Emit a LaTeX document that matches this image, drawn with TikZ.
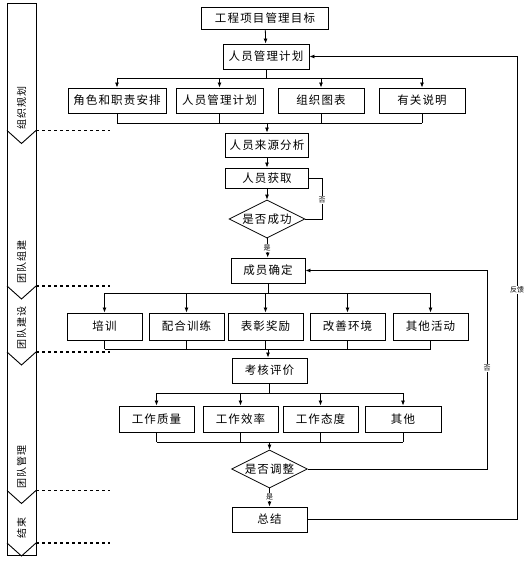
\documentclass[tikz,border=0pt]{standalone}
\usepackage{fontspec}
\newfontfamily\cjk[LetterSpace=10]{Noto Sans CJK SC}
\newfontfamily\cjktag{Noto Sans CJK SC}
\usetikzlibrary{shapes.geometric,arrows.meta}
\begin{document}
\begin{tikzpicture}[x=1pt,y=-1pt,
  box/.style={draw, line width=0.9pt, rectangle, minimum height=25pt, inner sep=1pt, font=\cjk\fontsize{11.5}{12}\selectfont},
  cond/.style={draw, line width=0.8pt, diamond, aspect=2, inner sep=0pt, minimum width=76pt, minimum height=38pt, font=\cjk\fontsize{11.5}{12}\selectfont},
  lane/.style={rotate=90, font=\cjk\fontsize{10}{11}\selectfont},
  tag/.style={fill=white, inner sep=0.5pt, font=\cjktag\fontsize{7}{7}\selectfont},
  arr/.style={-{Latex[length=5pt,width=4pt]}},
  line width=0.8pt]
\useasboundingbox (0,0) rectangle (530,564);
\draw[line width=0.9pt] (7,3) -- (36,3) -- (36,555) -- (7,555) -- cycle;
\foreach \b in {130.5,286,352,490.5,543}{
\draw[line width=0.9pt] (7,\b) -- (21.5,\b+13) -- (36,\b);
\draw[dashed, line width=1.2pt] (36,\b) -- (110,\b);
}
\node[lane] (lane0) at (21.5,108){组织规划};
\node[lane] (lane1) at (21.5,262){团队组建};
\node[lane] (lane2) at (21.5,328){团队建设};
\node[lane] (lane3) at (21.5,467){团队管理};
\node[lane] (lane4) at (21.5,528){结束};
\node[box, minimum width=127pt, minimum height=22pt] (goal) at (265,18){工程项目管理目标};
\node[box, minimum width=86pt] (plan) at (266,56.5){人员管理计划};
\draw[arr](goal) -- (plan);
\node[box, minimum width=98pt] (role) at (117,100.5){角色和职责安排};
\node[box, minimum width=87pt] (plan2) at (219.5,100.5){人员管理计划};
\node[box, minimum width=86pt] (chart) at (321,100.5){组织图表};
\node[box, minimum width=86pt] (note) at (422,100.5){有关说明};
\coordinate (s0) at (266,78);
\coordinate (m0) at (267,123);
\draw[](plan) -- (s0);
\draw[](role.north |- s0) -- (note.north |- s0);
\foreach \n in {role,plan2,chart,note}{
\draw[arr](\n.north |- s0) -- (\n.north);
\draw[](\n.south) -- (\n.south |- m0);
}
\draw[](role.south |- m0) -- (note.south |- m0);
\node[box, minimum width=83pt, minimum height=24pt] (src) at (267,145){人员来源分析};
\draw[arr](m0) -- (src);
\node[box, minimum width=83pt, minimum height=20pt] (get) at (267,178){人员获取};
\draw[arr](src) -- (get);
\node[cond] (ok) at (267,219){是否成功};
\draw[arr](get) -- (ok);
\coordinate (c0) at (322,178);
\draw[](get.east) -- (c0) -- (c0 |- ok.east) -- (ok.east);
\node[tag] (no0) at (322,200){否};
\node[box, minimum width=74pt] (fix) at (268,270.5){成员确定};
\draw[arr](ok) -- (fix);
\node[tag] (yes0) at (267,248){是};
\node[box, minimum width=75pt, minimum height=27pt] (train) at (104.5,326.5){培训};
\node[box, minimum width=75pt, minimum height=27pt] (drill) at (186.5,326.5){配合训练};
\node[box, minimum width=75pt, minimum height=27pt] (award) at (265.5,326.5){表彰奖励};
\node[box, minimum width=75pt, minimum height=27pt] (env) at (347.5,326.5){改善环境};
\node[box, minimum width=75pt, minimum height=27pt] (act) at (430.5,326.5){其他活动};
\coordinate (s1) at (268,293);
\coordinate (m1) at (268,349);
\draw[](fix) -- (s1);
\draw[](train.north |- s1) -- (act.north |- s1);
\foreach \n in {train,drill,award,env,act}{
\draw[arr](\n.north |- s1) -- (\n.north);
\draw[](\n.south) -- (\n.south |- m1);
}
\draw[](train.south |- m1) -- (act.south |- m1);
\node[box, minimum width=75pt] (eval) at (269.5,370.5){考核评价};
\draw[arr](m1) -- (m1 |- eval.north);
\node[box, minimum width=75pt, minimum height=26pt] (qual) at (156.5,419){工作质量};
\node[box, minimum width=75pt, minimum height=26pt] (eff) at (240.5,419){工作效率};
\node[box, minimum width=75pt, minimum height=26pt] (att) at (320.5,419){工作态度};
\node[box, minimum width=76pt, minimum height=26pt] (misc) at (403,419){其他};
\coordinate (s2) at (269.5,393);
\coordinate (m2) at (269.5,442);
\draw[](eval) -- (s2);
\draw[](qual.north |- s2) -- (misc.north |- s2);
\foreach \n in {qual,eff,att,misc}{
\draw[arr](\n.north |- s2) -- (\n.north);
\draw[](\n.south) -- (\n.south |- m2);
}
\draw[](qual.south |- m2) -- (misc.south |- m2);
\node[cond] (adj) at (269.5,469){是否调整};
\draw[arr](m2) -- (adj);
\coordinate (c1) at (487,469);
\draw[arr](adj.east) -- (c1) -- (c1 |- fix.east) -- (fix.east);
\node[tag] (no1) at (487,368){否};
\node[box, minimum width=75pt] (sum) at (269.5,519.5){总结};
\draw[arr](adj) -- (sum);
\node[tag] (yes1) at (269.5,497){是};
\coordinate (c2) at (517,519.5);
\draw[arr](sum.east) -- (c2) -- (c2 |- plan.east) -- (plan.east);
\node[tag] (back) at (517,290){反馈};
\end{tikzpicture}
\end{document}
